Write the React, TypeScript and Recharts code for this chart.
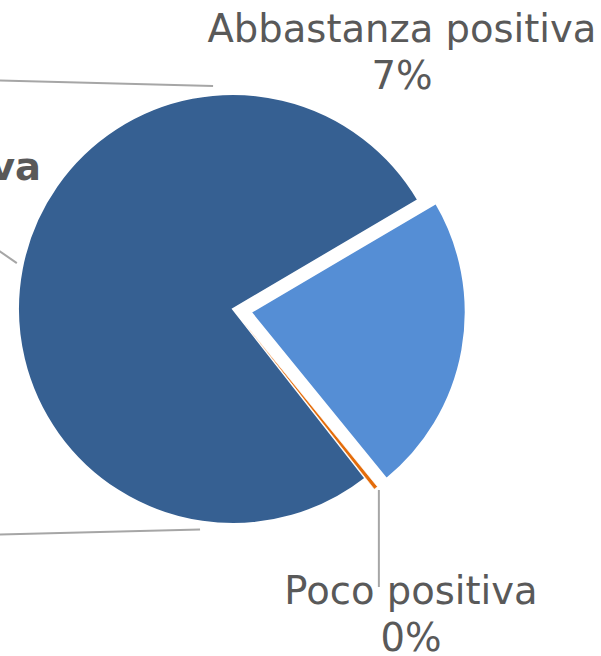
import React from 'react';
import { PieChart, Pie, Cell } from 'recharts';

// Slices, counter-clockwise from the upper boundary of the light-blue slice
const categories = ['Molto positiva', 'Poco positiva', 'Abbastanza positiva'];
const shares = [77.1, 0.3, 22.6];
const labelPercents = ['', '0%', '7%'];
const palette = ['#366092', '#E46C0A', '#558ED5'];

const data = categories.map((name, i) => ({ name, value: shares[i], pct: labelPercents[i] }));

const W = 601;
const H = 656;
const CX = 233;
const CY = 309;
const R = 215;
const START = 30.5;
const EXPLODE = [0, 14, 18];
const STROKE_W = [2, 0.6, 2];
const FONT = 'DejaVu Sans';
const TEXT = '#595959';
const LINE = '#A6A6A6';
const FS = 38.5;

const total = shares.reduce((a, b) => a + b, 0);
const midAngles = shares.map((v, i) => {
  const before = shares.slice(0, i).reduce((a, b) => a + b, 0);
  return START + (360 * (before + v / 2)) / total;
});
const RAD = Math.PI / 180;
const centers = midAngles.map((a, i) => ({
  x: CX + EXPLODE[i] * Math.cos(a * RAD),
  y: CY - EXPLODE[i] * Math.sin(a * RAD),
}));

// leader line from a point near the pie edge out to the (cropped) left side
const leader = (angleDeg: number, gap: number, farY: number, key: string) => {
  const a = angleDeg * RAD;
  const x2 = CX + (R + gap) * Math.cos(a);
  const y2 = CY - (R + gap) * Math.sin(a);
  return <line key={key} x1={-120} y1={farY} x2={x2} y2={y2} stroke={LINE} strokeWidth={2} />;
};

const renderLabel = (props: any) => {
  const { index } = props;
  const d = data[index];
  if (index === 0) {
    return (
      <g key="lbl0">
        {leader(95.1, 9, CY - 231.5, 'l1')}
        {leader(168, 6, CY - 140, 'l2')}
        {leader(261.5, 8, CY + 228.5, 'l3')}
        <text x={CX - 192} y={CY - 129} textAnchor="end" fontFamily={FONT} fontSize={FS} fontWeight="bold" fill={TEXT}>
          {d.name}
        </text>
      </g>
    );
  }
  if (index === 1) {
    const c = centers[1];
    const a = midAngles[1] * RAD;
    const tx = c.x + R * Math.cos(a);
    const ty = c.y - R * Math.sin(a);
    return (
      <g key="lbl1">
        <line x1={tx + 3} y1={ty + 2} x2={tx + 3} y2={CY + 278} stroke={LINE} strokeWidth={2} />
        <text x={CX + 178} y={CY + 295} textAnchor="middle" fontFamily={FONT} fontSize={FS} fill={TEXT}>
          {d.name}
        </text>
        <text x={CX + 178} y={CY + 342} textAnchor="middle" fontFamily={FONT} fontSize={FS} fill={TEXT}>
          {d.pct}
        </text>
      </g>
    );
  }
  return (
    <g key="lbl2">
      <text x={CX + 169} y={CY - 267} textAnchor="middle" fontFamily={FONT} fontSize={FS} fill={TEXT}>
        {d.name}
      </text>
      <text x={CX + 169} y={CY - 220} textAnchor="middle" fontFamily={FONT} fontSize={FS} fill={TEXT}>
        {d.pct}
      </text>
    </g>
  );
};

export default function App() {
  return (
    <div style={{ position: 'absolute', left: 0, top: 0, width: W, height: H, overflow: 'hidden', background: '#fff' }}>
      <PieChart width={W} height={H} margin={{ top: 0, right: 0, bottom: 0, left: 0 }}>
        {categories.map((_, layer) => (
          <Pie
            key={layer}
            data={data}
            dataKey="value"
            nameKey="name"
            cx={centers[layer].x}
            cy={centers[layer].y}
            outerRadius={R}
            innerRadius={0}
            startAngle={START}
            endAngle={START + 360}
            isAnimationActive={false}
            label={layer === 0 ? renderLabel : false}
            labelLine={false}
          >
            {data.map((_, i) => (
              <Cell
                key={i}
                fill={i === layer ? palette[i] : 'transparent'}
                stroke={i === layer ? '#ffffff' : 'none'}
                strokeWidth={i === layer ? STROKE_W[i] : 0}
              />
            ))}
          </Pie>
        ))}
      </PieChart>
    </div>
  );
}
